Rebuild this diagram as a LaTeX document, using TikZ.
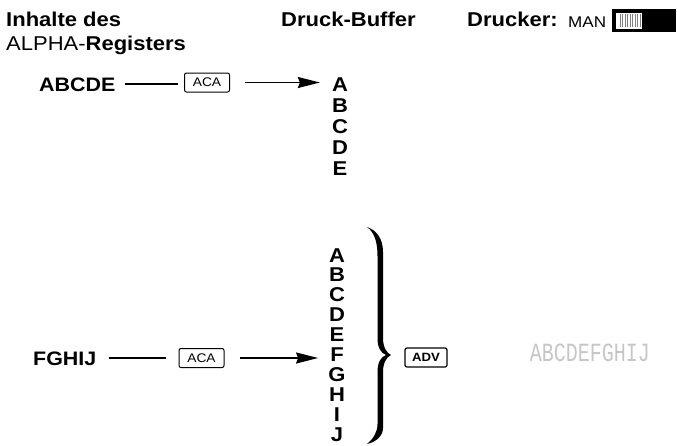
\documentclass[tikz,border=0pt]{standalone}
\usepackage{fontspec}
\usepackage{graphicx}
\setmainfont{Liberation Sans}[FakeStretch=1.1]
\newfontfamily\dotfont{Liberation Mono}
\usetikzlibrary{arrows.meta}
\begin{document}
\begin{tikzpicture}[x=1pt,y=-1pt,
  hdr/.style={font=\fontsize{20}{24}\selectfont\bfseries, anchor=base west, inner sep=0},
  reg/.style={font=\fontsize{19.5}{22}\selectfont\bfseries, anchor=base west, inner sep=0},
  letter/.style={font=\fontsize{20}{22}\selectfont\bfseries, inner sep=0, anchor=base},
  key/.style={draw, rounded corners=2pt, line width=1pt, minimum width=45pt, minimum height=19pt, inner sep=0, font=\fontsize{12.5}{13}\selectfont},
  conn/.style={line width=1.6pt},
  arr/.style={line width=1.6pt, -{Stealth[length=22pt,width=11pt,inset=2pt]}}]
\useasboundingbox (0,0) rectangle (677,445);
% headings
\node[hdr] (h1) at (6,26) {Inhalte des};
\node[hdr] (h2) at (6,50) {\mdseries ALPHA-\bfseries Registers};
\node[hdr] (h3) at (281,26) {Druck-Buffer};
\node[hdr] (h4) at (467,26) {Drucker:};
\node[anchor=base west, inner sep=0, font=\fontsize{15.5}{16}\selectfont] (man) at (568,27) {MAN};
% switch
\fill (612,9) rectangle (676,32);
\fill[white] (616,12.5) rectangle (642,28.5);
\foreach \x in {620,622.5,...,640} \draw[gray, line width=0.5pt] (\x,14) -- (\x,27);
% row 1
\node[reg] (r1) at (39,91) {ABCDE};
\node[key] (k1) at (207,82.5) {ACA};
\foreach \L [count=\i] in {A,B,C,D,E}
  \node[letter] (t\i) at (340,{91+21*(\i-1)}) {\L};
\draw[conn, shorten <=9pt, shorten >=6pt] (r1.east) -- (r1.east -| k1.west);
\draw[arr, shorten <=15pt, shorten >=12pt] (k1.east) -- (k1.east -| t1.west);
% row 2
\node[reg] (r2) at (33,365) {FGHIJ};
\node[key] (k2) at (201.5,358) {ACA};
\foreach \L [count=\i] in {A,B,C,D,E,F,G,H,I,J}
  \node[letter] (u\i) at (337,{262+19.9*(\i-1)}) {\L};
\draw[conn, shorten <=12pt, shorten >=13pt] (r2.east |- k2.west) -- (k2.west);
\draw[arr, shorten <=15pt, shorten >=12pt] (k2.east) -- (k2.east -| u6.west);
% brace
\fill (367,227) .. controls (376,230) and (383,238) .. (383,252)
  -- (383,338) .. controls (383,347) and (386.5,353) .. (391,355)
  .. controls (386.5,357) and (383,363) .. (383,372)
  -- (383,428) .. controls (383,436) and (376,442) .. (367,444)
  .. controls (373.5,438.5) and (377.5,432) .. (377.5,424)
  -- (377.5,372) .. controls (377.5,362) and (381,357) .. (386,355)
  .. controls (381,353) and (377.5,348) .. (377.5,338)
  -- (377.5,256) .. controls (377.5,242) and (374.5,232.5) .. (367,227) -- cycle;
\node[key, line width=1.2pt, minimum width=42pt, minimum height=19pt, font=\fontsize{12}{13}\selectfont\bfseries] (adv) at (426,357.5) {ADV};
% printout
\node[inner sep=0, text=gray!45, font=\dotfont\fontsize{25}{26}\selectfont] (pr) at (590,352.5) {\scalebox{0.8}[1.05]{ABCDEFGHIJ}};
\end{tikzpicture}
\end{document}
